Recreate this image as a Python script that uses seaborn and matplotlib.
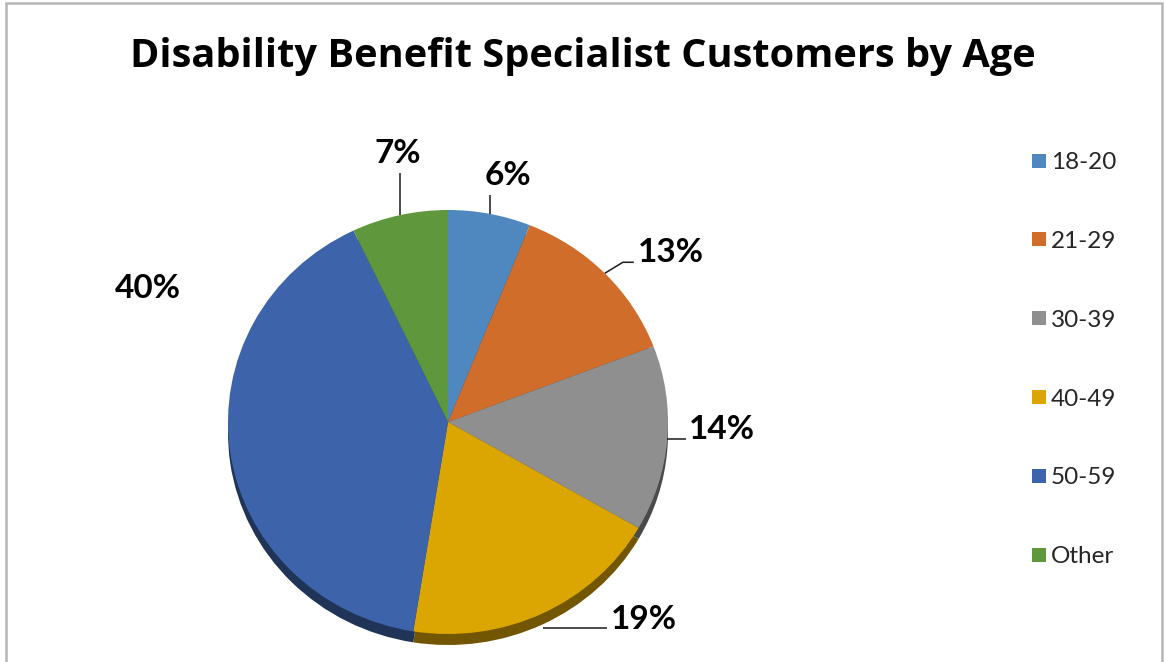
import numpy as np
import matplotlib
matplotlib.use("Agg")
import matplotlib.pyplot as plt
import matplotlib.colors as mcolors
from matplotlib.lines import Line2D
from matplotlib.patches import Rectangle
import seaborn as sns

# ---- data -------------------------------------------------------------
age_groups = ["18-20", "21-29", "30-39", "40-49", "50-59", "Other"]
share_pct = [6, 13, 14, 19, 40, 7]
slice_colors = ["#4F87BF", "#D06D2B", "#8F8F8F", "#DBA502", "#3D64AA", "#5F973C"]
title_text = "Disability Benefit Specialist Customers by Age"

# ---- style ------------------------------------------------------------
sns.set_theme(style="white")
plt.rcParams["font.family"] = ["Lato", "DejaVu Sans"]

W, H = 1165, 662
fig = plt.figure(figsize=(W / 100, H / 100), dpi=100)
fig.patch.set_facecolor("white")
ax = fig.add_axes([0, 0, 1, 1])

# pie geometry (pixels): centre and the two radii of the slightly tilted disc
cx, cy = 448, 422          # cy measured from the top edge
rx, ry = 220, 212
rim_px = 11                # visible thickness of the disc's side

palette = sns.color_palette(slice_colors)
rim_palette = [tuple(np.array(mcolors.to_rgb(c)) * 0.52) for c in palette]

# side of the disc, drawn first and shifted down
ax.pie(share_pct, colors=rim_palette, startangle=90, counterclock=False,
       center=(0, -rim_px / ry), radius=1, normalize=True,
       wedgeprops=dict(linewidth=0))
wedges, _ = ax.pie(share_pct, colors=palette, startangle=90, counterclock=False,
                   radius=1, normalize=True, wedgeprops=dict(linewidth=0))

ax.set_aspect("auto")
ax.set_xlim(-cx / rx, (W - cx) / rx)
ax.set_ylim(-(H - cy) / ry, cy / ry)
ax.axis("off")

# ---- data labels with leader lines (offsets in pixels, y up) -----------
label_text_offset = [(18, 29), (66, 11), (55, 0), (101, -16), (-82, 154), (-2, 52)]
leader_paths = [
    [(0, 0), (0, 19)],
    [(0, 0), (18, 11), (29, 11)],
    [(0, 0), (19, 0)],
    [(0, -15), (64, -15)],
    [],
    [(0, 0), (0, 42)],
]

for w, pct, toff, path in zip(wedges, share_pct, label_text_offset, leader_paths):
    mid = np.deg2rad((w.theta1 + w.theta2) / 2)
    ax0, ay0 = np.cos(mid), np.sin(mid)
    if path:
        xs = [ax0 + p[0] / rx for p in path]
        ys = [ay0 + p[1] / ry for p in path]
        ax.plot(xs, ys, color="#1a1a1a", lw=1.1, solid_capstyle="butt")
    ax.text(ax0 + toff[0] / rx, ay0 + toff[1] / ry, f"{pct}%",
            ha="center", va="baseline", fontsize=24, fontweight="bold",
            color="black")

# ---- title ------------------------------------------------------------
fig.text(583 / W, 1 - 67 / H, title_text, ha="center", va="baseline",
         fontsize=28.6, fontweight="bold", color="black",
         family=["Open Sans", "DejaVu Sans"])

# ---- legend -----------------------------------------------------------
handles = [Line2D([0], [0], marker="s", linestyle="none", markersize=10,
                  markerfacecolor=c, markeredgewidth=0) for c in palette]
fig.legend(handles, age_groups, loc="upper left",
           bbox_to_anchor=(1031.5 / W, 1 - 152 / H), frameon=False,
           fontsize=17.5, handlelength=0.6, handletextpad=0.2,
           labelspacing=2.38, borderpad=0, borderaxespad=0)

# ---- chart border -----------------------------------------------------
fig.patches.append(Rectangle((6 / W, -0.05), (1162 - 6) / W, 1.05 - 3 / H,
                             transform=fig.transFigure, fill=False,
                             edgecolor="#B5B5B5", linewidth=1.8))

fig.savefig("out.png", dpi=100)
